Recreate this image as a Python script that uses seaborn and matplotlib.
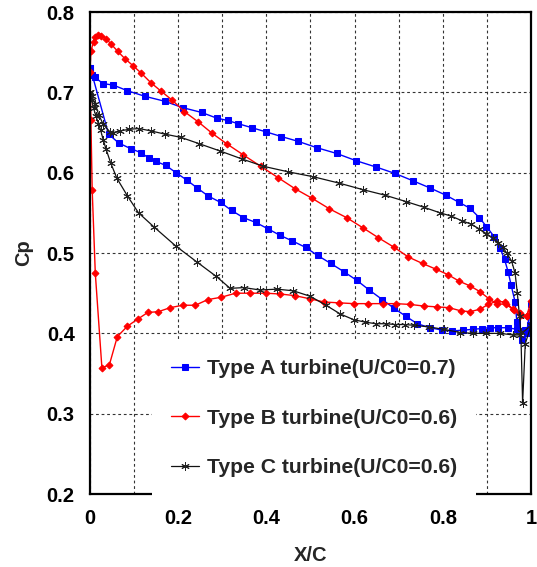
import numpy as np
import pandas as pd
import matplotlib
matplotlib.use('Agg')
import matplotlib.pyplot as plt
import seaborn as sns

# Type A turbine (U/C0=0.7) - suction side LE->TE, pressure side LE->TE
a_up_x = [0.0, 0.011, 0.029, 0.053, 0.085, 0.125, 0.169, 0.210, 0.253, 0.287, 0.312, 0.336, 0.367, 0.398,
          0.434, 0.472, 0.515, 0.559, 0.603, 0.649, 0.692, 0.732, 0.771, 0.807, 0.837, 0.861, 0.883, 0.899,
          0.917, 0.930, 0.940, 0.948, 0.955, 0.964, 0.968, 0.979, 0.990, 1.0]
a_up_y = [0.730, 0.719, 0.711, 0.709, 0.702, 0.695, 0.689, 0.681, 0.675, 0.668, 0.665, 0.661, 0.656, 0.651,
          0.645, 0.639, 0.631, 0.624, 0.615, 0.607, 0.599, 0.590, 0.581, 0.572, 0.563, 0.556, 0.544, 0.533,
          0.520, 0.506, 0.492, 0.477, 0.460, 0.439, 0.414, 0.392, 0.400, 0.437]
a_lo_x = [0.0, 0.005, 0.042, 0.065, 0.092, 0.115, 0.134, 0.150, 0.172, 0.195, 0.219, 0.243, 0.268, 0.296,
          0.321, 0.348, 0.376, 0.404, 0.431, 0.459, 0.489, 0.516, 0.546, 0.575, 0.605, 0.633, 0.663, 0.690,
          0.717, 0.742, 0.771, 0.799, 0.822, 0.845, 0.868, 0.888, 0.907, 0.926, 0.947, 0.968, 0.986, 0.998]
a_lo_y = [0.730, 0.722, 0.648, 0.637, 0.630, 0.625, 0.618, 0.614, 0.609, 0.600, 0.591, 0.581, 0.571, 0.563,
          0.553, 0.544, 0.538, 0.530, 0.522, 0.515, 0.507, 0.497, 0.487, 0.477, 0.466, 0.454, 0.442, 0.431,
          0.421, 0.412, 0.407, 0.404, 0.403, 0.404, 0.405, 0.406, 0.407, 0.407, 0.407, 0.405, 0.404, 0.410]

# Type B turbine (U/C0=0.6)
b_up_x = [0.0, 0.002, 0.008, 0.011, 0.019, 0.026, 0.036, 0.048, 0.063, 0.079, 0.098, 0.116, 0.138, 0.160,
          0.187, 0.214, 0.246, 0.277, 0.310, 0.348, 0.387, 0.426, 0.465, 0.504, 0.543, 0.582, 0.620, 0.654,
          0.690, 0.722, 0.754, 0.784, 0.812, 0.837, 0.862, 0.884, 0.905, 0.922, 0.943, 0.960, 0.975, 0.990, 1.0]
b_up_y = [0.725, 0.751, 0.763, 0.769, 0.771, 0.770, 0.767, 0.760, 0.751, 0.742, 0.733, 0.724, 0.712, 0.702,
          0.690, 0.676, 0.663, 0.649, 0.636, 0.622, 0.608, 0.594, 0.580, 0.568, 0.555, 0.544, 0.531, 0.519,
          0.507, 0.495, 0.487, 0.480, 0.473, 0.465, 0.459, 0.452, 0.443, 0.437, 0.436, 0.430, 0.425, 0.421, 0.440]
b_lo_x = [0.0, 0.002, 0.005, 0.012, 0.027, 0.044, 0.062, 0.085, 0.109, 0.131, 0.155, 0.182, 0.210, 0.239,
          0.267, 0.298, 0.330, 0.363, 0.398, 0.431, 0.464, 0.499, 0.531, 0.565, 0.598, 0.631, 0.664, 0.693,
          0.726, 0.757, 0.786, 0.814, 0.841, 0.862, 0.884, 0.903, 0.922, 0.942, 0.961, 0.978, 0.992, 1.0]
b_lo_y = [0.725, 0.666, 0.578, 0.475, 0.357, 0.361, 0.396, 0.409, 0.418, 0.426, 0.427, 0.432, 0.435, 0.435,
          0.442, 0.445, 0.450, 0.450, 0.450, 0.449, 0.447, 0.443, 0.439, 0.438, 0.437, 0.437, 0.437, 0.437,
          0.436, 0.434, 0.433, 0.432, 0.428, 0.427, 0.430, 0.436, 0.440, 0.439, 0.429, 0.423, 0.421, 0.428]

# Type C turbine (U/C0=0.6)
c_up_x = [0.0, 0.005, 0.012, 0.020, 0.030, 0.045, 0.053, 0.068, 0.089, 0.111, 0.138, 0.170, 0.206, 0.248,
          0.295, 0.345, 0.393, 0.450, 0.506, 0.565, 0.618, 0.669, 0.717, 0.757, 0.794, 0.819, 0.844, 0.864,
          0.883, 0.899, 0.913, 0.926, 0.936, 0.945, 0.956, 0.964, 0.969, 0.974, 0.977, 0.981]
c_up_y = [0.700, 0.695, 0.685, 0.672, 0.660, 0.651, 0.650, 0.652, 0.654, 0.655, 0.652, 0.648, 0.644, 0.636,
          0.627, 0.617, 0.608, 0.601, 0.595, 0.587, 0.579, 0.572, 0.564, 0.557, 0.550, 0.546, 0.540, 0.536,
          0.530, 0.524, 0.519, 0.513, 0.507, 0.500, 0.490, 0.475, 0.450, 0.421, 0.402, 0.313]
c_lo_x = [0.0, 0.004, 0.008, 0.014, 0.019, 0.024, 0.030, 0.036, 0.047, 0.061, 0.085, 0.110, 0.146, 0.194,
          0.242, 0.286, 0.318, 0.349, 0.385, 0.424, 0.461, 0.500, 0.535, 0.568, 0.598, 0.624, 0.648, 0.671,
          0.692, 0.714, 0.735, 0.769, 0.802, 0.840, 0.868, 0.898, 0.930, 0.960, 0.975, 1.0, 0.987]
c_lo_y = [0.700, 0.690, 0.680, 0.670, 0.661, 0.653, 0.641, 0.630, 0.612, 0.593, 0.571, 0.550, 0.532, 0.509,
          0.489, 0.471, 0.456, 0.457, 0.454, 0.455, 0.453, 0.446, 0.435, 0.424, 0.417, 0.414, 0.412, 0.412,
          0.411, 0.411, 0.410, 0.408, 0.405, 0.401, 0.400, 0.400, 0.400, 0.398, 0.398, 0.410, 0.387]

labels = ['Type A turbine(U/C0=0.7)', 'Type B turbine(U/C0=0.6)', 'Type C turbine(U/C0=0.6)']
x_ticks = [0, 0.2, 0.4, 0.6, 0.8, 1.0]
x_ticklabels = ['0', '0.2', '0.4', '0.6', '0.8', '1']
x_minor = [0.1, 0.3, 0.5, 0.7, 0.9]
y_ticks = [0.2, 0.3, 0.4, 0.5, 0.6, 0.7, 0.8]
y_ticklabels = ['0.2', '0.3', '0.4', '0.5', '0.6', '0.7', '0.8']


def loop(up_x, up_y, lo_x, lo_y):
    # suction side to trailing edge, then pressure side back to leading edge
    x = list(up_x) + list(lo_x[::-1])
    y = list(up_y) + list(lo_y[::-1])
    return pd.DataFrame({'x': x, 'y': y})


sns.set_style('white')
plt.rcParams['font.family'] = ['Liberation Sans', 'DejaVu Sans']
plt.rcParams['font.weight'] = 'bold'

fig = plt.figure(figsize=(5.37, 5.67), dpi=100)
ax = fig.add_axes([0.1676, 0.1287, 0.8212, 0.8501])

styles = [
    dict(color='#0000FF', marker='s', markersize=4.3, markeredgecolor='#0000FF', linewidth=1.0),
    dict(color='#FF0000', marker='D', markersize=3.5, markeredgecolor='#FF0000', linewidth=1.0),
    dict(color='#111111', marker=(6, 2, 0), markersize=6, markeredgecolor='#222222',
         markeredgewidth=0.7, linewidth=0.9),
]
data = [loop(a_up_x, a_up_y, a_lo_x, a_lo_y),
        loop(b_up_x, b_up_y, b_lo_x, b_lo_y),
        loop(c_up_x, c_up_y, c_lo_x, c_lo_y)]

for df, lab, st in zip(data, labels, styles):
    sns.lineplot(data=df, x='x', y='y', sort=False, estimator=None, ax=ax, label=lab, **st)

ax.set_xlim(0, 1)
ax.set_ylim(0.2, 0.8)
ax.set_xticks(x_ticks)
ax.set_xticklabels(x_ticklabels)
ax.set_xticks(x_minor, minor=True)
ax.set_yticks(y_ticks)
ax.set_yticklabels(y_ticklabels)
ax.grid(True, which='both', axis='x', color='#333333', linestyle=(0, (2.5, 2.5)), linewidth=0.8)
ax.grid(True, which='major', axis='y', color='#333333', linestyle=(0, (2.5, 2.5)), linewidth=0.8)
ax.tick_params(axis='both', which='major', direction='in', length=3, width=0.8, pad=11,
               labelsize=14.5, colors='black')
ax.tick_params(axis='x', which='minor', length=0)
for lbl in ax.get_xticklabels() + ax.get_yticklabels():
    lbl.set_fontweight('bold')
for sp in ax.spines.values():
    sp.set_visible(True)
    sp.set_color('black')
    sp.set_linewidth(1.6)

ax.set_xlabel('X/C', fontsize=14.5, fontweight='bold', labelpad=13)
ax.set_ylabel('Cp', fontsize=14.5, fontweight='bold', labelpad=10)

leg = ax.legend(loc='lower left', bbox_to_anchor=(0.14, -0.005), frameon=True, fancybox=False,
                framealpha=1, edgecolor='none', facecolor='white',
                labelspacing=1.45, handlelength=1.35, handletextpad=0.35, borderpad=0.9,
                borderaxespad=0, prop={'weight': 'bold', 'size': 15.2})

fig.savefig('out.png', dpi=100)
